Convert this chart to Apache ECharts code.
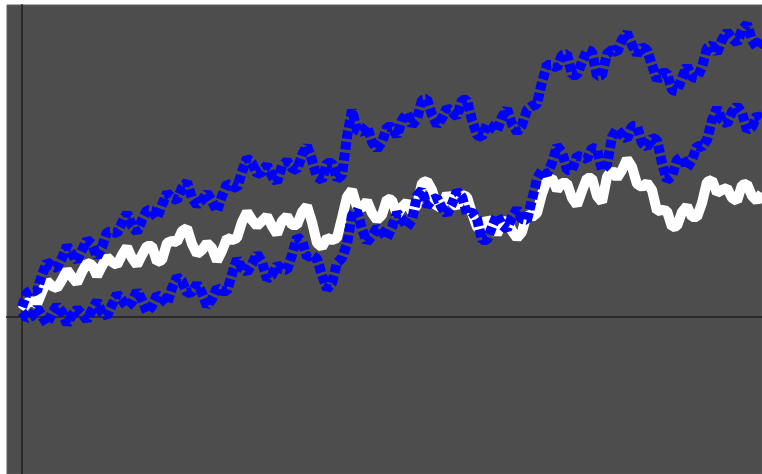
<!DOCTYPE html>
<html>
<head>
<meta charset="utf-8">
<script src="https://cdn.jsdelivr.net/npm/echarts@6/dist/echarts.min.js"></script>
<style>
  html, body { margin: 0; padding: 0; background: #ffffff; }
  #chart { width: 762px; height: 474px; }
</style>
</head>
<body>
<div id="chart"></div>
<script>
// Half-step time grid shared by all three paths (0, 0.5, ... 74)
const steps = Array.from({ length: 149 }, (_, i) => i / 2);

// Path values (arbitrary units above the zero line)
const upperPath = [10, 24, 27, 26, 42, 55, 51, 49, 59, 71, 63, 56, 67, 77, 73, 60, 70, 85, 85, 84,
  94, 104, 91, 85, 97, 107, 106, 99, 112, 124, 119, 117, 129, 135, 119, 112, 117, 124, 116, 106,
  121, 133, 131, 129, 145, 159, 154, 143, 145, 152, 141, 135, 151, 156, 149, 147, 162, 171, 157, 140,
  137, 154, 154, 138, 142, 180, 207, 187, 185, 191, 175, 168, 175, 190, 190, 181, 197, 204, 192, 198,
  217, 218, 202, 192, 199, 209, 205, 200, 217, 217, 197, 182, 180, 193, 190, 186, 200, 208, 193, 185,
  192, 207, 211, 213, 235, 252, 252, 249, 262, 263, 242, 242, 255, 267, 265, 241, 242, 263, 267, 265,
  277, 284, 272, 263, 270, 267, 252, 237, 244, 244, 227, 226, 239, 251, 240, 239, 250, 269, 272, 264,
  277, 285, 279, 274, 287, 293, 277, 269, 277];

const middlePath = [7, 14, 16, 13, 25, 36, 31, 29, 37, 47, 40, 34, 45, 54, 52, 41, 51, 60, 55, 52,
  62, 70, 59, 52, 62, 71, 71, 55, 57, 74, 76, 75, 86, 89, 73, 63, 67, 74, 69, 56,
  66, 79, 77, 79, 95, 105, 97, 91, 96, 101, 91, 83, 96, 101, 92, 92, 105, 111, 95, 74,
  70, 79, 77, 79, 99, 120, 127, 110, 109, 116, 104, 97, 102, 118, 117, 102, 110, 115, 105, 112,
  134, 136, 127, 110, 111, 123, 115, 110, 122, 120, 104, 90, 86, 98, 93, 83, 93, 97, 86, 79,
  85, 103, 100, 104, 123, 137, 139, 127, 134, 134, 119, 112, 126, 139, 139, 121, 115, 140, 147, 139,
  147, 158, 150, 133, 130, 134, 127, 106, 107, 106, 90, 91, 105, 111, 100, 100, 114, 135, 137, 124,
  127, 129, 119, 116, 132, 133, 121, 116, 124];

const lowerPath = [5, -1, 1, 9, 1, -7, 4, 11, 5, -7, 2, 8, 3, -3, 7, 16, 4, 1, 12, 23,
  17, 10, 15, 26, 17, 5, 11, 22, 19, 13, 29, 40, 36, 24, 25, 33, 24, 11, 18, 29,
  26, 26, 43, 58, 49, 45, 53, 63, 55, 38, 42, 52, 48, 47, 62, 80, 76, 60, 62, 58,
  42, 28, 34, 54, 59, 73, 102, 106, 88, 75, 81, 89, 85, 79, 90, 104, 98, 90, 97, 121,
  127, 111, 117, 119, 109, 103, 113, 126, 120, 103, 105, 98, 77, 77, 90, 102, 92, 88, 100, 108,
  98, 97, 117, 138, 147, 143, 154, 171, 165, 147, 147, 161, 160, 158, 169, 168, 147, 152, 180, 188,
  182, 178, 191, 191, 174, 170, 179, 177, 154, 137, 141, 157, 160, 149, 157, 171, 170, 177, 197, 209,
  197, 193, 205, 211, 204, 187, 190, 202, 197];

const pair = (vals) => vals.map((v, i) => [steps[i], v]);

const chart = echarts.init(document.getElementById('chart'), null, { renderer: 'canvas' });

const hidden = { show: false };
const zeroLine = { show: true, onZero: true, lineStyle: { color: '#2a2a2a', width: 2 } };
const dashed = { color: '#0000ff', width: 10, type: [8, 3], cap: 'butt', join: 'bevel' };

chart.setOption({
  animation: false,
  backgroundColor: '#ffffff',
  grid: {
    left: 7, top: 5, right: 0, bottom: 0,
    show: true, backgroundColor: '#4d4d4d', borderWidth: 1, borderColor: '#5c5c5c'
  },
  xAxis: {
    type: 'value', min: -1.5, max: 74,
    axisLine: zeroLine, axisTick: hidden, axisLabel: hidden, splitLine: hidden
  },
  yAxis: {
    type: 'value', min: -157, max: 312,
    axisLine: zeroLine, axisTick: hidden, axisLabel: hidden, splitLine: hidden
  },
  series: [
    {
      name: 'middle', type: 'line', data: pair(middlePath), showSymbol: false,
      lineStyle: { color: '#ffffff', width: 10, join: 'bevel' }
    },
    {
      name: 'upper', type: 'line', data: pair(upperPath), showSymbol: false,
      lineStyle: dashed
    },
    {
      name: 'lower', type: 'line', data: pair(lowerPath), showSymbol: false,
      lineStyle: dashed
    }
  ]
});
</script>
</body>
</html>
